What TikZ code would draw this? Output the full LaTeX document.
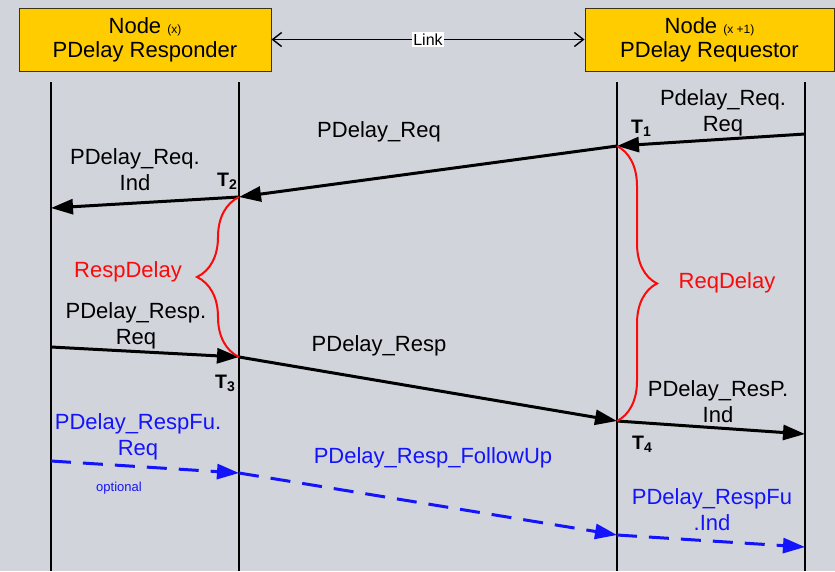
\documentclass[tikz,border=0pt]{standalone}
\usepackage{fontspec}
\setmainfont{Liberation Sans}
\usetikzlibrary{arrows.meta,decorations.pathreplacing}
\definecolor{slate}{RGB}{209,212,219}
\definecolor{gold}{RGB}{255,204,0}
\definecolor{edge}{RGB}{60,50,20}
\definecolor{fublue}{RGB}{20,20,250}
\definecolor{spanred}{RGB}{250,10,10}
\newcommand\bigfont{\fontsize{22}{26}\selectfont}
\newcommand\smallfont{\fontsize{12}{14}\selectfont}
\newcommand\tstamp[1]{\fontsize{19.5}{20}\selectfont\bfseries T\raisebox{-3pt}{\fontsize{14}{14}\selectfont #1}}
\tikzset{
  >={Triangle[length=22pt,width=15pt]},
  station/.style={draw=edge,fill=gold,line width=1pt,minimum width=252pt,
    minimum height=63pt,align=center,font=\bigfont,inner sep=0pt},
  link/.style={{Straight Barb[length=9pt,width=14pt]}-{Straight Barb[length=9pt,width=14pt]},
    line width=1.4pt},
  linklabel/.style={fill=white,font=\fontsize{16}{18}\selectfont,inner sep=1.5pt},
  lifeline/.style={line width=1.5pt},
  msg/.style={->,line width=3pt},
  fu/.style={->,line width=3pt,draw=fublue,dash pattern=on 20pt off 12pt},
  span/.style={draw=spanred,line width=2pt,decorate,decoration={brace,amplitude=#1}},
  lbl/.style={font=\bigfont,align=center,inner sep=0pt},
  stamp/.style={inner sep=0pt},
}
\begin{document}
\begin{tikzpicture}[x=1pt,y=-1pt]
  \path[fill=slate,use as bounding box] (0,0) rectangle (835,571);
  % the two nodes and the link
  \node[station] (resp) at (145,39.5) {\raisebox{-2pt}{Node {\smallfont(x)}}\\PDelay Responder};
  \node[station,minimum width=249pt] (reqr) at (709.5,39.5) {\raisebox{-2pt}{Node {\smallfont(x +1)}}\\PDelay Requestor};
  \draw[link] (resp) -- node[linklabel] (lnk) {Link} (reqr);
  % lifelines
  \foreach \n/\x in {a/51,b/239,c/617,d/805} {
    \coordinate (\n top) at (\x,82);
    \coordinate (\n bot) at (\x,571);
    \draw[lifeline] (\n top) -- (\n bot);
  }
  % time stamps on the lifelines
  \coordinate (req0) at (805,134);
  \coordinate (t1) at (617,146);
  \coordinate (t2) at (239,197);
  \coordinate (ind0) at (51,208);
  \coordinate (resp0) at (51,347);
  \coordinate (t3) at (239,357);
  \coordinate (t4) at (617,421);
  \coordinate (ind1) at (805,434);
  \coordinate (fu0) at (51,461);
  \coordinate (fu1) at (239,473);
  \coordinate (fu2) at (617,535);
  \coordinate (fu3) at (805,547);
  \foreach \s/\e in {req0/t1,t1/t2,t2/ind0,resp0/t3,t3/t4,t4/ind1} \draw[msg] (\s) -- (\e);
  \foreach \s/\e in {fu0/fu1,fu1/fu2,fu2/fu3} \draw[fu] (\s) -- (\e);
  % delays
  \draw[span=42pt] (t3) -- (t2);
  \draw[span=40pt] (t1) -- (t4);
  \node[lbl,text=spanred] (rd) at (128,272) {RespDelay};
  \node[lbl,text=spanred] (qd) at (727,283) {ReqDelay};
  % message texts
  \node[lbl] (m1) at (723,113) {Pdelay\_Req.\\Req};
  \node[lbl] (m2) at (379,132) {PDelay\_Req};
  \node[lbl] (m3) at (135,170) {PDelay\_Req.\\Ind};
  \node[lbl] (m4) at (136,326) {PDelay\_Resp.\\Req};
  \node[lbl] (m5) at (379,346) {PDelay\_Resp};
  \node[lbl] (m6) at (718,402) {PDelay\_ResP.\\Ind};
  \node[lbl,text=fublue] (f1) at (138,437) {PDelay\_RespFu.\\Req};
  \node[lbl,text=fublue] (f2) at (433,458) {PDelay\_Resp\_FollowUp};
  \node[lbl,text=fublue] (f3) at (712,510) {PDelay\_RespFu\\.Ind};
  \node[lbl,text=fublue,font=\fontsize{13}{15}\selectfont] (opt) at (119,488) {optional};
  \node[stamp] (T1) at (641,128) {\tstamp{1}};
  \node[stamp] (T2) at (227,181) {\tstamp{2}};
  \node[stamp] (T3) at (225,383) {\tstamp{3}};
  \node[stamp] (T4) at (642,444) {\tstamp{4}};
\end{tikzpicture}
\end{document}
